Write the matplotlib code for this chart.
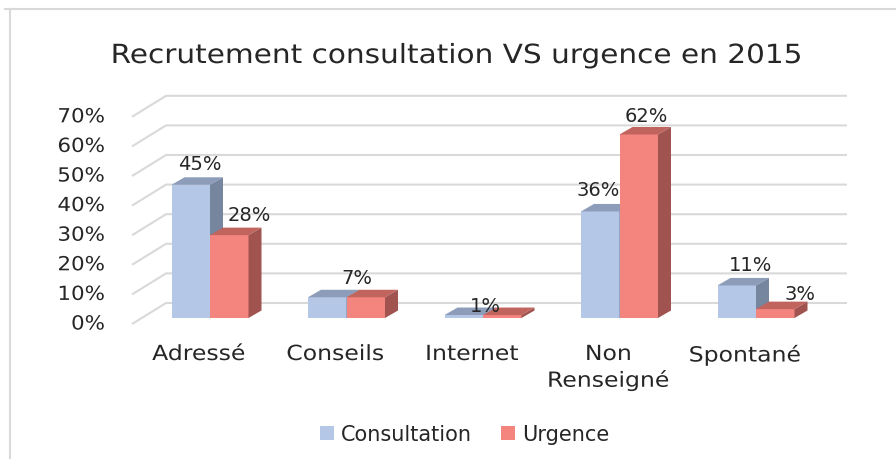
import numpy as np
import matplotlib
matplotlib.use("Agg")
import matplotlib.pyplot as plt
from matplotlib.patches import Polygon, Patch
from matplotlib.lines import Line2D
from matplotlib.patheffects import AbstractPathEffect
from matplotlib.transforms import Affine2D

# data
categories = ["Adressé", "Conseils", "Internet", "Non\nRenseigné", "Spontané"]
consultation = [45, 7, 1, 36, 11]
urgence = [28, 7, 1, 62, 3]
yticks = [0, 10, 20, 30, 40, 50, 60, 70]
title = "Recrutement consultation VS urgence en 2015"

# layout (pixels of the 896x460 picture)
W, H = 896, 460
X0, PX = 210.0, 136.5     # pixel x of first group, pixels per category
Y0, PY = 319.0, 2.96      # pixel y of 0 %, pixels per percent
bw = 38.5 / PX            # one bar width
depth = (13 / PX, 7.5 / PY)          # bar depth (oblique)
back = (24.3 / PX, 15 / PY)          # back wall offset
front = (-9.7 / PX, -6 / PY)         # front edge offset
wall_right = (847 - X0) / PX
tick_right = 105          # pixel x where the % labels end

blue = ("#B4C7E7", "#8C9CB9", "#77869F")
red = ("#F4847E", "#C2645E", "#A0534F")
txt = "#262626"
grid = "#D9D9D9"

# label nudges in pixels (dx, gap above top face)
nudge_c = [(9, 8.5), (0, 0), (0, 0), (-2.5, 8.5), (14, 7.5)]
nudge_u = [(20, 7.5), (-9, 6.5), (-16.5, -3), (7.5, 5.5), (25, 2.5)]


class Stretch(AbstractPathEffect):
    # widen text horizontally (the original looks stretched)
    def __init__(self, sx, xfix=None):
        super().__init__()
        self.sx = sx
        self.xfix = xfix

    def draw_path(self, renderer, gc, tpath, affine, rgbFace=None):
        x = self.xfix
        if x is None:
            ext = affine.transform_path(tpath).get_extents()
            x = (ext.x0 + ext.x1) / 2
        a = affine + Affine2D().translate(-x, 0).scale(self.sx, 1).translate(x, 0)
        renderer.draw_path(gc, tpath, a, rgbFace)


plt.rcParams['font.family'] = ['DejaVu Sans']

fig = plt.figure(figsize=(W / 100, H / 100), dpi=100)
L, R, T, B = 90, 880, 70, 360
ax = fig.add_axes([L / W, 1 - B / H, (R - L) / W, (B - T) / H])
ax.set_xlim((L - X0) / PX, (R - X0) / PX)
ax.set_ylim((Y0 - B) / PY, (Y0 - T) / PY)
ax.axis('off')

# gridlines on back wall + left wall diagonals
xl_front = front[0] - 0.5
xl_back = back[0] - 0.5
for v in yticks:
    ax.plot([xl_front, xl_back, wall_right], [v + front[1], v + back[1], v + back[1]],
            color=grid, lw=1.5, zorder=1, solid_capstyle='butt')
    ax.text((tick_right - X0) / PX, v + front[1], "%d%%" % v, ha='right', va='center',
            fontsize=14, color=txt, clip_on=False,
            path_effects=[Stretch(1.1, tick_right)])


def bar3d(x0, v, cols, z):
    ax.bar(x0, v, width=bw, align='edge', color=cols[0], zorder=z)
    dx, dy = depth
    top = [(x0, v), (x0 + bw, v), (x0 + bw + dx, v + dy), (x0 + dx, v + dy)]
    side = [(x0 + bw, 0), (x0 + bw + dx, dy), (x0 + bw + dx, v + dy), (x0 + bw, v)]
    ax.add_patch(Polygon(top, closed=True, facecolor=cols[1], edgecolor='none', zorder=z))
    ax.add_patch(Polygon(side, closed=True, facecolor=cols[2], edgecolor='none', zorder=z))


z = 3
for i, (c, u) in enumerate(zip(consultation, urgence)):
    bar3d(i - bw, c, blue, z)
    bar3d(i, u, red, z + 1)
    z += 2
    if c != u:
        ax.text(i - bw / 2 + nudge_c[i][0] / PX, c + depth[1] + nudge_c[i][1] / PY,
                "%d%%" % c, ha='center', va='baseline', fontsize=14, color=txt, zorder=50)
    ax.text(i + bw / 2 + nudge_u[i][0] / PX, u + depth[1] + nudge_u[i][1] / PY,
            "%d%%" % u, ha='center', va='baseline', fontsize=14, color=txt, zorder=50)
    ax.text(i + front[0] - 1.5 / PX, (Y0 - 345) / PY, categories[i], ha='center', va='top',
            fontsize=15, color=txt, linespacing=1.3, clip_on=False,
            path_effects=[Stretch(1.13)])

fig.text(457 / W, 1 - 57 / H, title, ha='center', va='center', fontsize=19, color=txt,
         path_effects=[Stretch(1.12)])

handles = [Patch(facecolor=blue[0], label="Consultation"),
           Patch(facecolor=red[0], label="Urgence")]
fig.legend(handles=handles, loc='center', bbox_to_anchor=(465 / W, 1 - 435 / H), ncol=2,
           frameon=False, fontsize=15, handlelength=0.65, handleheight=0.65,
           handletextpad=0.35, columnspacing=1.4, labelcolor=txt)

# chart frame
fig.add_artist(Line2D([5 / W, 1], [1 - 10 / H, 1 - 10 / H], color=grid, lw=1.5))
fig.add_artist(Line2D([10 / W, 10 / W], [0, 1 - 10 / H], color=grid, lw=1.5))

fig.savefig("out.png", dpi=100)
